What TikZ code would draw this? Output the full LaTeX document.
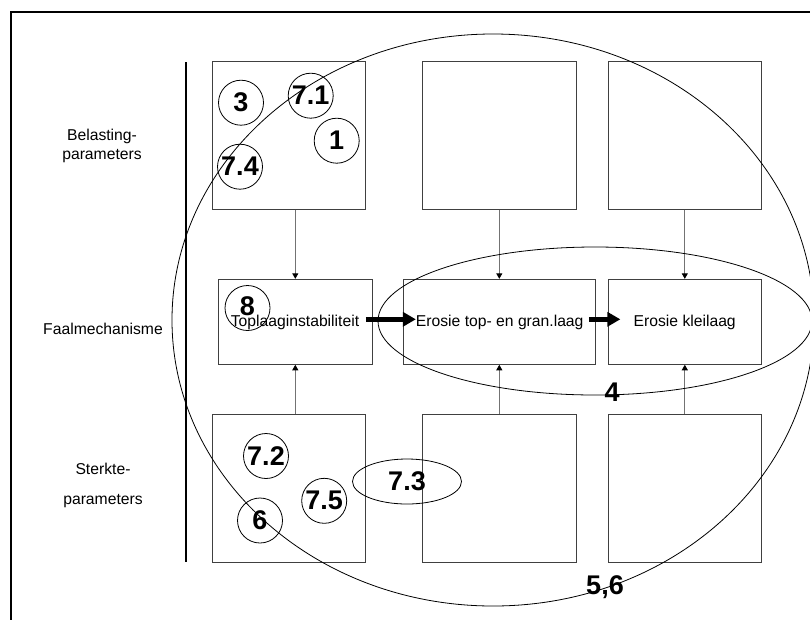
\documentclass[tikz,border=0pt]{standalone}
\usepackage{fontspec}
\setmainfont{Liberation Sans}
\usetikzlibrary{arrows.meta}
\tikzset{
  box/.style={draw=black!75, line width=0.9pt, inner sep=0pt, anchor=center},
  topbox/.style={box, minimum width=153.4pt, minimum height=147.3pt},
  botbox/.style={box, minimum width=153.4pt, minimum height=147.7pt},
  midbox/.style={box, minimum height=85pt},
  lbl/.style={font=\fontsize{15.7}{19}\selectfont, align=center, inner sep=0pt},
  num/.style={font=\fontsize{27}{30}\selectfont\bfseries, inner sep=0pt},
  ring/.style={draw, circle, line width=0.8pt, minimum size=45pt, inner sep=0pt, font=\fontsize{27}{30}\selectfont\bfseries},
  thin/.style={draw=black!55, line width=0.9pt, -{Triangle[length=5.5pt,width=6pt,color=black]}},
  fat/.style={line width=5.5pt, -{Triangle[length=13pt,width=14pt]}},
  curve/.style={line width=0.8pt},
}
\begin{document}
\begin{tikzpicture}[x=1pt,y=-1pt]
\useasboundingbox (0,0) rectangle (810,619);
% frame
\draw[line width=2pt] (11,12) rectangle (840,650);
% vertical bar
\coordinate (bartop) at (186,62);
\coordinate (barbot) at (186,562);
\draw[line width=2pt] (bartop) -- (barbot);
% row labels
\node[lbl] (lbelast) at (102,145.5) {Belasting-\\parameters};
\node[lbl] (lfaal) at (103,329) {Faalmechanisme};
\node[lbl, font=\fontsize{15.7}{29.5}\selectfont] (lsterk) at (103,485.5) {Sterkte-\\parameters};
% top boxes
\node[topbox] (t1) at (289,135.5) {};
\node[topbox] (t2) at (499.3,135.5) {};
\node[topbox] (t3) at (684.8,135.5) {};
% middle boxes
\node[midbox, minimum width=154pt] (m1) at (295.3,321.8) {};
\node[midbox, minimum width=192pt] (m2) at (499.3,321.8) {};
\node[midbox, minimum width=153pt] (m3) at (684.8,321.8) {};
\node[lbl] (m1t) at (295,322) {Toplaaginstabiliteit};
\node[lbl] (m2t) at (499.7,322) {Erosie top- en gran.laag};
\node[lbl] (m3t) at (684.7,322) {Erosie kleilaag};
% bottom boxes
\node[botbox] (b1) at (289,488.2) {};
\node[botbox] (b2) at (499.3,488.2) {};
\node[botbox] (b3) at (684.8,488.2) {};
% thin arrows
\draw[thin] (t1.south -| m1) -- (m1.north);
\draw[thin] (t2.south) -- (m2.north);
\draw[thin] (t3.south) -- (m3.north);
\draw[thin] (b1.north -| m1) -- (m1.south);
\draw[thin] (b2.north) -- (m2.south);
\draw[thin] (b3.north) -- (m3.south);
% thick arrows
\draw[fat] ([xshift=-7pt,yshift=2.5pt]m1.east) -- ([xshift=13pt,yshift=2.5pt]m2.west);
\draw[fat] ([xshift=-7pt,yshift=2.5pt]m2.east) -- ([xshift=12.5pt,yshift=2.5pt]m3.west);
% circles
\node[ring] (c3) at (241,102.7) {3};
\node[ring] (c71) at (310.7,95.7) {7.1};
\node[ring] (c1) at (336.7,140.7) {1};
\node[ring] (c74) at (240,166.7) {7.4};
\node[ring] (c8) at (247.5,308) {};
\node[num] (c8t) at (247.5,306) {8};
\node[ring] (c72) at (266,456) {7.2};
\node[ring] (c75) at (324.2,500.8) {7.5};
\node[ring] (c6) at (260,520.5) {6};
% ellipse 7.3
\draw[curve] (407,481.5) ellipse [x radius=54.5, y radius=22.5];
\node[num] (e73) at (407,481.5) {7.3};
% ellipse 4
\draw[curve] (595,321) ellipse [x radius=217, y radius=74];
\node[num] (e4) at (612,392) {4};
% big ellipse 5,6
\draw[curve] (493,320) ellipse [x radius=321, y radius=286];
\node[num] (e56) at (605,587) {5,6};
\end{tikzpicture}
\end{document}
